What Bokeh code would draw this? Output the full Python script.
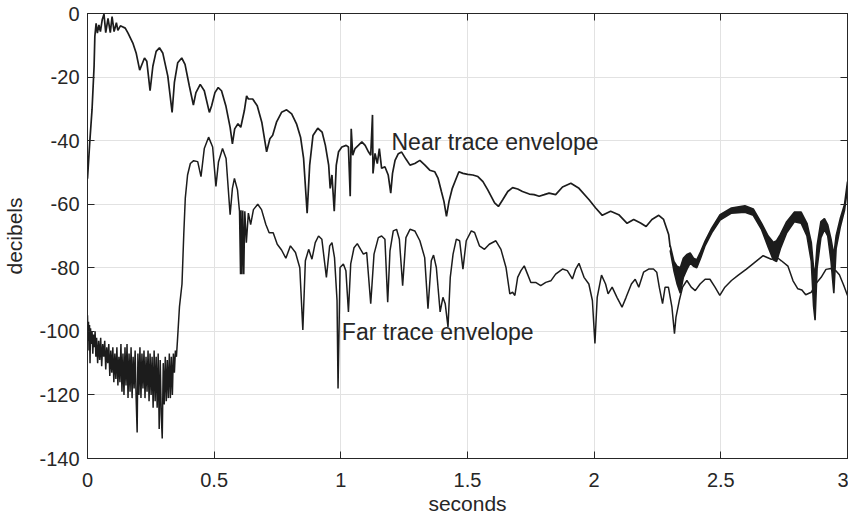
from bokeh.plotting import figure
from bokeh.models import FixedTicker, LinearAxis, Range1d
from bokeh.core.properties import value
from bokeh.embed import file_html
from bokeh.resources import INLINE

# ---------------- data ----------------
near_t = [0.000, 0.009, 0.018, 0.026, 0.029, 0.034, 0.039, 0.045, 0.051, 0.058,
          0.065, 0.072, 0.081, 0.090, 0.097, 0.105, 0.114, 0.120, 0.130, 0.136,
          0.149, 0.160, 0.179, 0.192, 0.206, 0.212, 0.225, 0.234, 0.247, 0.258,
          0.271, 0.284, 0.297, 0.317, 0.334, 0.343, 0.356, 0.372, 0.385, 0.402,
          0.418, 0.428, 0.445, 0.461, 0.481, 0.490, 0.503, 0.516, 0.529, 0.546,
          0.563, 0.572, 0.581, 0.594, 0.605, 0.619, 0.628, 0.635, 0.652, 0.670,
          0.688, 0.707, 0.720, 0.731, 0.746, 0.766, 0.786, 0.806, 0.825, 0.841,
          0.853, 0.867, 0.877, 0.890, 0.909, 0.926, 0.939, 0.952, 0.958, 0.965,
          0.974, 0.982, 0.991, 1.004, 1.021, 1.030, 1.037, 1.041, 1.047, 1.056,
          1.069, 1.083, 1.096, 1.109, 1.118, 1.125, 1.127, 1.135, 1.144, 1.152,
          1.161, 1.174, 1.187, 1.197, 1.204, 1.214, 1.227, 1.240, 1.257, 1.273,
          1.292, 1.312, 1.332, 1.351, 1.371, 1.384, 1.397, 1.407, 1.417, 1.427,
          1.440, 1.453, 1.466, 1.482, 1.501, 1.521, 1.541, 1.561, 1.580, 1.607,
          1.622, 1.639, 1.659, 1.678, 1.698, 1.717, 1.744, 1.763, 1.783, 1.803,
          1.822, 1.848, 1.875, 1.908, 1.940, 1.980, 2.006, 2.032, 2.065, 2.097,
          2.130, 2.156, 2.183, 2.205, 2.228, 2.255, 2.274, 2.294, 2.300]
near_db = [-52.0, -40.4, -30.1, -16.6, -7.2, -3.1, -6.2, -3.6, -5.7, -2.0,
           -0.2, -6.0, -1.5, -6.0, -1.0, -5.7, -2.9, -5.3, -3.9, -4.1,
           -4.6, -6.2, -9.3, -12.4, -17.8, -16.6, -14.0, -15.0, -24.3, -16.6,
           -11.9, -10.8, -12.4, -19.7, -31.1, -21.7, -15.5, -14.0, -16.0, -22.8,
           -28.8, -24.9, -22.3, -24.3, -31.1, -29.0, -24.9, -23.3, -24.3, -29.0,
           -35.8, -41.0, -36.3, -34.7, -35.8, -30.6, -25.9, -26.9, -26.9, -29.0,
           -34.2, -43.5, -39.4, -38.3, -34.2, -31.1, -30.3, -31.6, -34.7, -38.9,
           -45.6, -62.8, -47.7, -38.4, -36.1, -37.3, -41.5, -47.7, -55.0, -50.8,
           -62.2, -47.7, -43.5, -42.0, -41.5, -42.0, -57.5, -36.3, -44.6, -42.5,
           -41.5, -40.4, -41.5, -43.5, -44.6, -31.9, -50.3, -44.0, -47.2, -42.5,
           -48.7, -48.2, -50.8, -56.5, -50.3, -46.2, -44.1, -43.6, -45.8, -47.7,
           -47.2, -46.2, -47.7, -49.3, -49.8, -51.9, -56.0, -59.1, -63.8, -59.1,
           -55.0, -52.4, -49.8, -50.3, -50.6, -50.8, -51.3, -52.9, -55.5, -59.6,
           -60.7, -58.6, -56.0, -54.8, -55.2, -56.0, -56.8, -57.0, -57.5, -57.0,
           -56.5, -57.0, -54.6, -53.4, -55.0, -58.6, -61.2, -63.5, -62.2, -63.3,
           -66.0, -64.8, -65.9, -67.0, -64.8, -63.5, -64.8, -69.5, -73.5]

# near trace, late part: fast oscillation drawn as a band (upper / lower edge)
band_t = [2.300, 2.315, 2.327, 2.340, 2.352, 2.366, 2.379, 2.392, 2.405, 2.420,
          2.438, 2.464, 2.497, 2.542, 2.595, 2.628, 2.661, 2.687, 2.707, 2.720,
          2.735, 2.760, 2.790, 2.817, 2.840, 2.857, 2.866, 2.872, 2.880, 2.895,
          2.909, 2.922, 2.935, 2.946, 2.955, 2.972, 2.988, 3.000]
band_hi = [-73.0, -78.0, -79.5, -80.0, -77.0, -75.8, -75.3, -77.0, -77.5, -75.0,
           -71.6, -67.5, -63.3, -61.2, -60.5, -61.5, -66.0, -70.0, -72.0, -71.5,
           -69.5, -65.5, -62.5, -62.5, -66.0, -72.0, -80.0, -82.0, -73.0, -65.5,
           -64.5, -66.5, -71.0, -76.0, -70.0, -64.3, -60.2, -52.9]
band_lo = [-74.5, -81.0, -85.0, -88.0, -83.0, -80.5, -78.5, -79.5, -80.0, -77.0,
           -73.0, -69.0, -65.0, -62.8, -62.5, -63.5, -68.0, -73.5, -77.5, -78.0,
           -74.0, -69.0, -65.5, -66.0, -70.0, -78.0, -92.0, -96.5, -80.0, -70.5,
           -68.0, -70.0, -78.0, -88.0, -74.0, -67.0, -62.0, -55.0]

far_t = [0.000, 0.002, 0.004, 0.006, 0.008, 0.010, 0.012, 0.015, 0.018, 0.021,
         0.024, 0.027, 0.030, 0.033, 0.036, 0.040, 0.044, 0.048, 0.052, 0.056,
         0.060, 0.064, 0.068, 0.072, 0.076, 0.080, 0.084, 0.088, 0.092, 0.096,
         0.100, 0.104, 0.108, 0.112, 0.116, 0.120, 0.124, 0.128, 0.132, 0.136,
         0.140, 0.144, 0.148, 0.152, 0.156, 0.160, 0.164, 0.168, 0.172, 0.176,
         0.180, 0.184, 0.188, 0.192, 0.196, 0.199, 0.203, 0.207, 0.211, 0.215,
         0.219, 0.223, 0.227, 0.231, 0.235, 0.239, 0.243, 0.247, 0.251, 0.255,
         0.259, 0.263, 0.267, 0.271, 0.275, 0.279, 0.283, 0.287, 0.291, 0.295,
         0.299, 0.303, 0.307, 0.311, 0.315, 0.319, 0.323, 0.327, 0.331, 0.335,
         0.339, 0.343, 0.347, 0.351, 0.355, 0.363, 0.373, 0.380, 0.386, 0.395,
         0.406, 0.419, 0.435, 0.448, 0.461, 0.478, 0.494, 0.507, 0.517, 0.533,
         0.547, 0.563, 0.572, 0.580, 0.592, 0.600, 0.604, 0.606, 0.610, 0.613,
         0.617, 0.621, 0.627, 0.635, 0.644, 0.655, 0.672, 0.687, 0.704, 0.717,
         0.733, 0.749, 0.766, 0.783, 0.801, 0.821, 0.838, 0.850, 0.860, 0.873,
         0.886, 0.899, 0.912, 0.925, 0.943, 0.956, 0.965, 0.975, 0.985, 0.989,
         0.997, 1.010, 1.020, 1.030, 1.039, 1.052, 1.065, 1.078, 1.089, 1.102,
         1.118, 1.131, 1.148, 1.161, 1.174, 1.185, 1.194, 1.207, 1.220, 1.231,
         1.244, 1.257, 1.273, 1.292, 1.312, 1.331, 1.344, 1.357, 1.366, 1.377,
         1.392, 1.403, 1.412, 1.423, 1.432, 1.443, 1.456, 1.469, 1.482, 1.495,
         1.515, 1.528, 1.547, 1.567, 1.586, 1.612, 1.632, 1.652, 1.667, 1.678,
         1.687, 1.698, 1.711, 1.724, 1.737, 1.750, 1.769, 1.789, 1.809, 1.829,
         1.848, 1.875, 1.894, 1.914, 1.927, 1.940, 1.960, 1.979, 1.993, 2.003,
         2.012, 2.029, 2.045, 2.055, 2.071, 2.090, 2.110, 2.126, 2.147, 2.162,
         2.176, 2.195, 2.215, 2.234, 2.247, 2.257, 2.270, 2.280, 2.293, 2.307,
         2.317, 2.323, 2.336, 2.349, 2.366, 2.383, 2.399, 2.418, 2.438, 2.457,
         2.477, 2.496, 2.516, 2.542, 2.569, 2.601, 2.634, 2.667, 2.699, 2.726,
         2.739, 2.765, 2.785, 2.804, 2.820, 2.835, 2.857, 2.875, 2.896, 2.915,
         2.935, 2.955, 2.968, 2.985, 3.000]
far_db = [-94.9, -103, -97, -106, -98, -110, -99, -104, -100, -107,
          -101, -105, -100, -108, -102, -110, -103, -109, -102, -111,
          -104, -108, -103, -112, -105, -110, -104, -114, -106, -113,
          -105, -116, -107, -115, -105, -117, -108, -116, -104, -119,
          -107, -120, -105, -117, -104, -121, -107, -119, -105, -121,
          -108, -118, -106, -121, -131.8, -107, -120, -105, -121, -107,
          -118, -106, -121, -108, -119, -106, -122, -107, -120, -108,
          -124, -106, -122, -108, -124, -107, -130.7, -109, -126, -133.7,
          -110, -123, -108, -122, -109, -121, -107, -121, -108, -120,
          -107, -113, -106, -108, -103, -92.3, -85.1, -69.5, -58.1, -50.8,
          -47.2, -46.3, -46.6, -51.3, -42.5, -38.9, -42.0, -54.4, -46.7, -42.5,
          -45.6, -63.3, -55.0, -51.9, -55.5, -62.2, -82.0, -61.9, -82.0, -62.0,
          -82.0, -62.2, -72.1, -62.8, -66.4, -61.7, -60.0, -61.7, -66.4, -69.0,
          -69.0, -72.6, -74.4, -77.0, -73.1, -75.2, -80.0, -99.6, -77.8, -74.2,
          -77.3, -72.1, -70.0, -71.0, -83.0, -73.1, -72.1, -76.8, -90.3, -118.0,
          -79.9, -78.8, -80.9, -93.9, -78.8, -73.7, -72.4, -74.2, -75.7, -75.2,
          -91.3, -75.7, -70.5, -70.0, -71.0, -90.8, -74.7, -68.4, -67.9, -71.0,
          -85.6, -70.5, -67.9, -68.4, -71.5, -76.8, -92.9, -77.8, -76.0, -79.9,
          -93.9, -89.3, -91.3, -98.6, -83.0, -75.7, -71.0, -71.5, -80.4, -71.5,
          -68.4, -68.9, -73.1, -74.2, -72.6, -71.5, -74.2, -79.9, -88.2, -87.7,
          -88.7, -83.0, -80.9, -79.4, -82.0, -84.6, -84.6, -85.6, -84.6, -84.1,
          -82.0, -80.4, -80.9, -83.5, -80.4, -78.6, -83.0, -85.1, -90.3, -103.8,
          -89.3, -82.3, -85.1, -88.2, -86.1, -89.3, -92.4, -89.3, -85.1, -83.6,
          -86.1, -81.4, -80.4, -80.4, -81.4, -86.1, -91.3, -86.1, -86.1, -92.4,
          -100.7, -95.5, -90.3, -86.1, -84.0, -86.1, -87.2, -85.1, -83.6, -83.6,
          -86.1, -88.7, -86.1, -84.0, -82.3, -80.4, -78.3, -76.2, -77.3, -77.0,
          -77.8, -79.5, -84.1, -86.6, -87.0, -88.5, -87.7, -85.0, -83.0, -80.5,
          -80.2, -81.0, -82.2, -85.5, -88.7]

x_ticks = [0, 0.5, 1, 1.5, 2, 2.5, 3]
x_tick_labels = ["0", "0.5", "1", "1.5", "2", "2.5", "3"]
y_ticks = [-140, -120, -100, -80, -60, -40, -20, 0]
y_tick_labels = ["-140", "-120", "-100", "-80", "-60", "-40", "-20", "0"]

label_text = ["Near trace envelope", "Far trace envelope"]
label_t = [1.2, 1.004]
label_db = [-40.4, -100.1]

# ---------------- figure ----------------
INK = "#1c1c1c"
AX = "#262626"
FONT = "Liberation Sans"

p = figure(width=848, height=517,
           x_range=Range1d(0, 3), y_range=Range1d(-140, 0),
           output_backend="svg", toolbar_location=None,
           min_border_left=86, min_border_right=1, min_border_top=13, min_border_bottom=54,
           x_axis_label="seconds", y_axis_label="decibels")
p.background_fill_color = "white"
p.border_fill_color = "white"
p.outline_line_color = AX
p.outline_line_width = 1

for g, ticks in ((p.xgrid[0], x_ticks), (p.ygrid[0], y_ticks)):
    g.ticker = FixedTicker(ticks=ticks)
    g.grid_line_color = "#e2e2e2"
    g.grid_line_width = 1

p.xaxis[0].ticker = FixedTicker(ticks=x_ticks)
p.xaxis[0].major_label_overrides = dict(zip(x_ticks, x_tick_labels))
p.yaxis[0].ticker = FixedTicker(ticks=y_ticks)
p.yaxis[0].major_label_overrides = dict(zip(y_ticks, y_tick_labels))

for ax in (p.xaxis[0], p.yaxis[0]):
    ax.major_tick_in = 7
    ax.major_tick_out = 0
    ax.minor_tick_line_color = None
    ax.axis_line_color = AX
    ax.major_tick_line_color = AX
    ax.major_label_text_font = FONT
    ax.major_label_text_font_size = "20px"
    ax.major_label_text_color = AX
    ax.axis_label_text_font = FONT
    ax.axis_label_text_font_size = "21px"
    ax.axis_label_text_font_style = "normal"
    ax.axis_label_text_color = AX
p.xaxis[0].major_label_standoff = 14
p.xaxis[0].axis_label_standoff = 2
p.yaxis[0].major_label_standoff = 8
p.yaxis[0].axis_label_standoff = 10

# box ticks on the right and top edges (their labels are not drawn)
right = LinearAxis(ticker=FixedTicker(ticks=y_ticks), major_label_text_color=None,
                   major_label_text_font_size="1px", major_label_standoff=0,
                   major_tick_in=7, major_tick_out=0, axis_label_standoff=0,
                   minor_tick_line_color=None, axis_line_color=AX, major_tick_line_color=AX)
top = LinearAxis(ticker=FixedTicker(ticks=x_ticks), major_label_text_color=None,
                 major_label_text_font_size="1px", major_label_standoff=0,
                 major_tick_in=7, major_tick_out=0, axis_label_standoff=0,
                 minor_tick_line_color=None, axis_line_color=AX, major_tick_line_color=AX)
p.add_layout(right, "right")
p.add_layout(top, "above")

# traces
p.line(far_t, far_db, line_color=INK, line_width=1.5)
p.line(near_t, near_db, line_color=INK, line_width=1.7)
p.varea(x=band_t, y1=band_lo, y2=band_hi, fill_color=INK)
p.line(band_t, band_hi, line_color=INK, line_width=1.6)
p.line(band_t, band_lo, line_color=INK, line_width=1.6)

p.text(x=label_t, y=label_db, text=label_text, text_font=value(FONT),
       text_font_size="23px", text_align="left", text_baseline="middle", text_color=AX)

open("out.html", "w").write(file_html(p, INLINE))
